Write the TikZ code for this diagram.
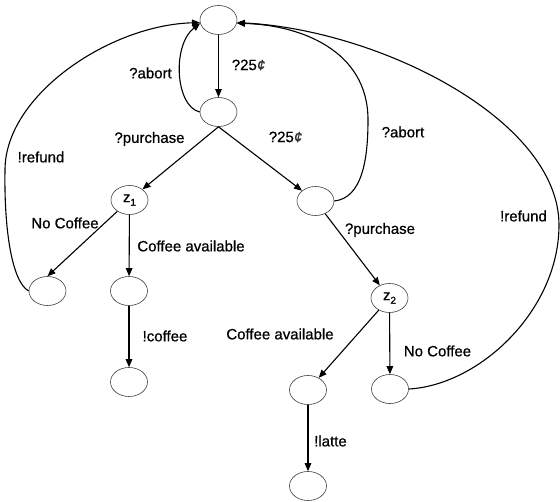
\documentclass[tikz,border=0pt]{standalone}
\usepackage{fontspec}
\setmainfont{Liberation Sans}
\newfontfamily\lblfont{Liberation Sans}[FakeBold=0.7]
\usetikzlibrary{shapes.geometric,arrows.meta}
\newcommand{\centsign}{{\itshape\color{black!80}¢}}
\newcommand{\zsub}[1]{z\raisebox{-0.45ex}{\fontsize{10}{10}\selectfont #1}}
\begin{document}
\begin{tikzpicture}[x=1pt,y=-1pt,
  state/.style={ellipse,draw=black!75,line width=0.6pt,minimum width=37pt,
    minimum height=29pt,inner sep=0pt,font=\lblfont\fontsize{15}{15}\selectfont},
  lbl/.style={font=\lblfont\fontsize{15}{18}\selectfont,inner sep=0pt},
  edge/.style={line width=1.1pt,-{Triangle[length=8pt,width=6.5pt]}}]
\useasboundingbox (0,0) rectangle (560,502);

% states
\node[state] (n0) at (218.5,20) {};
\node[state] (n1) at (218.5,112) {};
\node[state] (z1) at (129.5,200) {\zsub{1}};
\node[state] (n3) at (315.5,201) {};
\node[state] (nL) at (47.5,291) {};
\node[state] (nC) at (129,291) {};
\node[state] (ncoffee) at (129,382) {};
\node[state] (z2) at (389.5,298) {\zsub{2}};
\node[state] (nCA2) at (308,390) {};
\node[state] (nNC2) at (390,389) {};
\node[state] (nlatte) at (308,486) {};

% straight transitions
\draw[edge] (n0) -- (n1);
\draw[edge] (n1.south) -- (z1);
\draw[edge] (n1.south) -- (n3);
\draw[edge] (n3) -- (z2);
\draw[edge] (z1) -- (nL.north);
\draw[edge] (z1) -- (nC);
\draw[edge] (nC) -- (ncoffee);
\draw[edge] (z2) -- (nCA2);
\draw[edge] (z2) -- (nNC2);
\draw[edge] (nCA2) -- (nlatte);

% returns to the initial state
\draw[edge] (n1.west) .. controls (175,106) and (172,45) .. (n0.190);
\draw[edge] (n3.east) .. controls (362,198) and (368,160) .. (368,120)
  .. controls (368,50) and (300,25) .. (n0.-10);
\draw[edge] (nL.west) .. controls (12,282) and (4,230) .. (5,170)
  .. controls (5,95) and (110,25) .. (n0.188);
\draw[edge] (nNC2.east) .. controls (480,385) and (559,310) .. (559,225)
  .. controls (559,120) and (380,30) .. (n0.-8);

% transition labels
\node[lbl] (t25a) at (248.5,65) {?25\centsign};
\node[lbl] (tab1) at (150.5,73) {?abort};
\node[lbl] (tpu1) at (149.5,139) {?purchase};
\node[lbl] (t25b) at (285.5,137) {?25\centsign};
\node[lbl] (tab2) at (403,132) {?abort};
\node[lbl] (tre1) at (41,157) {!refund};
\node[lbl] (tnc1) at (65,223) {No Coffee};
\node[lbl] (tca1) at (191,246) {Coffee available};
\node[lbl] (tcof) at (165,336) {!coffee};
\node[lbl] (tpu2) at (380,230) {?purchase};
\node[lbl] (tre2) at (523.5,216) {!refund};
\node[lbl] (tca2) at (280,334) {Coffee available};
\node[lbl] (tnc2) at (437.5,351) {No Coffee};
\node[lbl] (tlat) at (330.5,441) {!latte};
\end{tikzpicture}
\end{document}
